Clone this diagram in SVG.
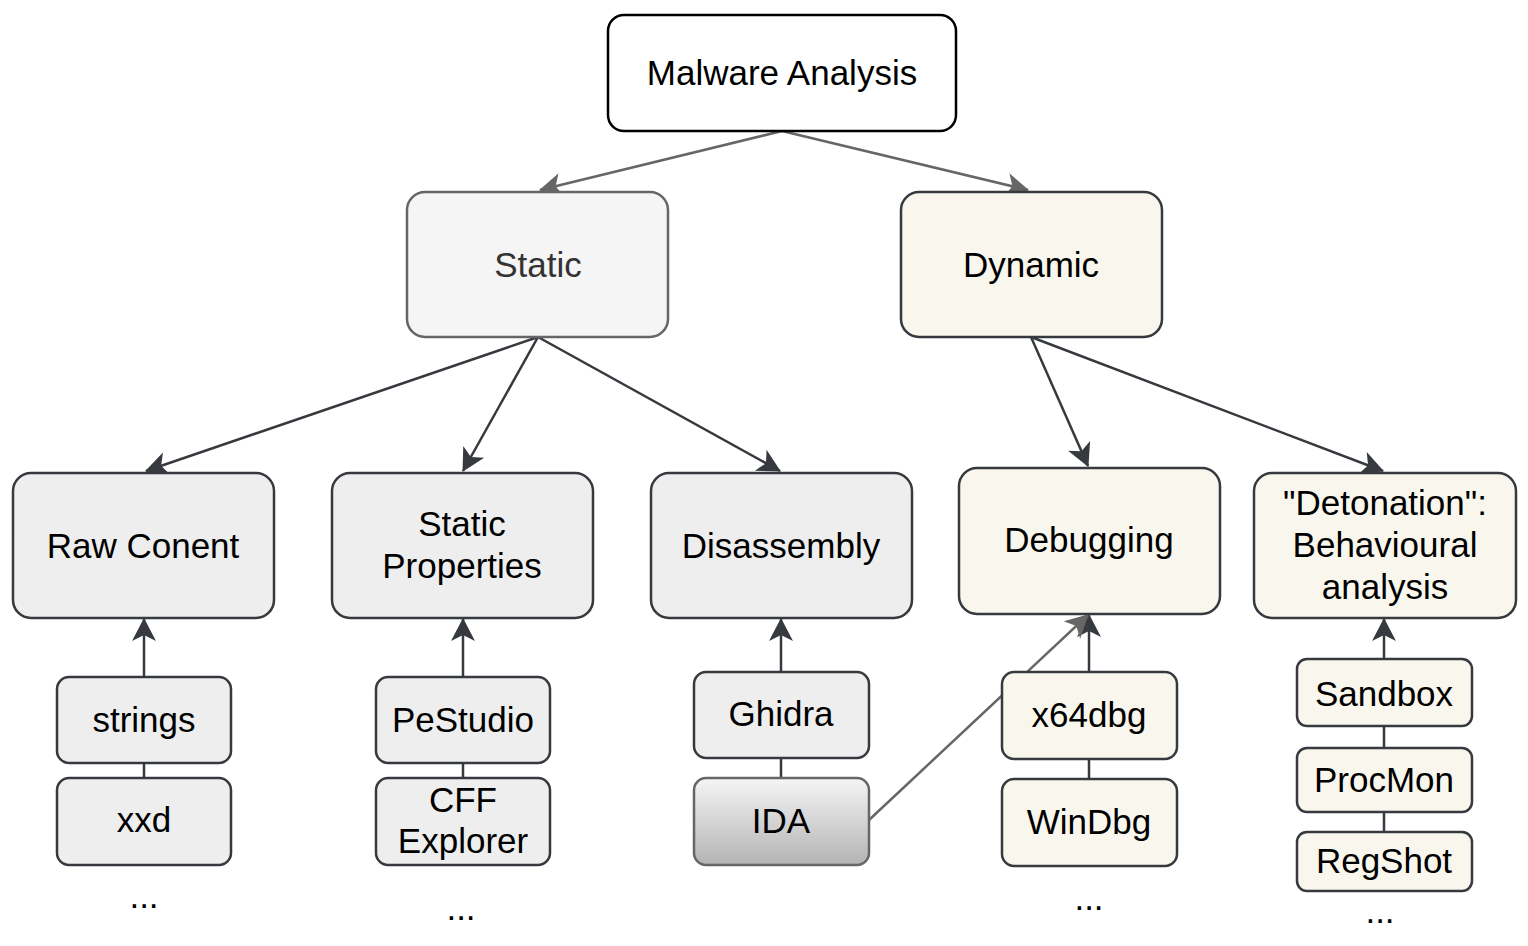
<svg xmlns="http://www.w3.org/2000/svg" width="1528" height="946" viewBox="0 0 1528 946">
<style>
text{font-family:"Liberation Sans",Arial,Helvetica,sans-serif;font-size:35px;fill:#000;text-anchor:middle}
.grey{fill:#eeeeee;stroke:#36393d;stroke-width:2.5}
.beige{fill:#f9f7ed;stroke:#36393d;stroke-width:2.5}
.e1{stroke:#666666;stroke-width:2.5;fill:none}
.e2{stroke:#36393d;stroke-width:2.5;fill:none}
marker{overflow:visible}
</style>
<defs>
<marker id="ag" markerUnits="userSpaceOnUse" refX="0" refY="0" markerWidth="26" markerHeight="26" orient="auto" style="overflow:visible">
<path d="M1,0 L-22,-12 L-16,0 L-22,12 Z" fill="#666666" stroke="none"/>
</marker>
<marker id="ad" markerUnits="userSpaceOnUse" refX="0" refY="0" markerWidth="26" markerHeight="26" orient="auto" style="overflow:visible">
<path d="M1,0 L-22,-12 L-16,0 L-22,12 Z" fill="#36393d" stroke="none"/>
</marker>
<linearGradient id="idaGrad" x1="0" y1="0" x2="0" y2="1">
<stop offset="0" stop-color="#f5f5f5"/>
<stop offset="1" stop-color="#b3b3b3"/>
</linearGradient>
</defs>
<g id="connectors">
<line class="e1" x1="782" y1="131" x2="540" y2="190" marker-end="url(#ag)"/>
<line class="e1" x1="782" y1="131" x2="1028" y2="190" marker-end="url(#ag)"/>
<line class="e2" x1="538" y1="337" x2="146" y2="471" marker-end="url(#ad)"/>
<line class="e2" x1="538" y1="337" x2="463" y2="471" marker-end="url(#ad)"/>
<line class="e2" x1="538" y1="337" x2="780" y2="471" marker-end="url(#ad)"/>
<line class="e2" x1="1031" y1="337" x2="1088" y2="466" marker-end="url(#ad)"/>
<line class="e2" x1="1031" y1="337" x2="1383" y2="471" marker-end="url(#ad)"/>
<line class="e2" x1="144" y1="677" x2="144" y2="619" marker-end="url(#ad)"/>
<line class="e2" x1="463" y1="676" x2="463" y2="619" marker-end="url(#ad)"/>
<line class="e2" x1="781" y1="671" x2="781" y2="619" marker-end="url(#ad)"/>
<line class="e2" x1="1089" y1="672" x2="1089" y2="615" marker-end="url(#ad)"/>
<line class="e2" x1="1384" y1="659" x2="1384" y2="619" marker-end="url(#ad)"/>
<line class="e1" x1="869" y1="820" x2="1088" y2="615" marker-end="url(#ag)"/>
<line class="e2" x1="144" y1="763" x2="144" y2="778"/>
<line class="e2" x1="463" y1="763" x2="463" y2="778"/>
<line class="e2" x1="781" y1="758" x2="781" y2="778"/>
<line class="e2" x1="1089" y1="759" x2="1089" y2="779"/>
<line class="e2" x1="1384" y1="726" x2="1384" y2="748"/>
<line class="e2" x1="1384" y1="812" x2="1384" y2="832"/>
</g>
<g id="malware">
<rect x="608" y="15" width="348" height="116" rx="16" fill="#ffffff" stroke="#000" stroke-width="2.5"/>
<text x="782" y="85">Malware Analysis</text>
</g>
<g id="static">
<rect x="407" y="192" width="261" height="145" rx="18" fill="#f5f5f5" stroke="#666666" stroke-width="2.5"/>
<text x="538" y="277" style="fill:#333333">Static</text>
</g>
<g id="dynamic">
<rect class="beige" x="901" y="192" width="261" height="145" rx="18"/>
<text x="1031" y="277">Dynamic</text>
</g>
<g id="raw">
<rect class="grey" x="13" y="473" width="261" height="145" rx="18"/>
<text x="143" y="558">Raw Conent</text>
</g>
<g id="staticprops">
<rect class="grey" x="332" y="473" width="261" height="145" rx="18"/>
<text x="462" y="536">Static</text>
<text x="462" y="578">Properties</text>
</g>
<g id="disassembly">
<rect class="grey" x="651" y="473" width="261" height="145" rx="18"/>
<text x="781" y="558">Disassembly</text>
</g>
<g id="debugging">
<rect class="beige" x="959" y="468" width="261" height="146" rx="18"/>
<text x="1089" y="552">Debugging</text>
</g>
<g id="detonation">
<rect class="beige" x="1254" y="473" width="262" height="145" rx="18"/>
<text x="1385" y="515">"Detonation":</text>
<text x="1385" y="557">Behavioural</text>
<text x="1385" y="599">analysis</text>
</g>
<g id="strings">
<rect class="grey" x="57" y="677" width="174" height="86" rx="12"/>
<text x="144" y="732">strings</text>
</g>
<g id="xxd">
<rect class="grey" x="57" y="778" width="174" height="87" rx="12"/>
<text x="144" y="832">xxd</text>
</g>
<g id="dots1"><text x="144" y="908">...</text></g>
<g id="pestudio">
<rect class="grey" x="376" y="677" width="174" height="86" rx="12"/>
<text x="463" y="732">PeStudio</text>
</g>
<g id="cff">
<rect class="grey" x="376" y="778" width="174" height="87" rx="12"/>
<text x="463" y="812">CFF</text>
<text x="463" y="853">Explorer</text>
</g>
<g id="dots2"><text x="461" y="920">...</text></g>
<g id="ghidra">
<rect class="grey" x="694" y="672" width="175" height="86" rx="12"/>
<text x="781" y="726">Ghidra</text>
</g>
<g id="ida">
<rect x="694" y="778" width="175" height="87" rx="12" fill="url(#idaGrad)" stroke="#666666" stroke-width="2.5"/>
<text x="781" y="833">IDA</text>
</g>
<g id="x64dbg">
<rect class="beige" x="1002" y="672" width="175" height="87" rx="12"/>
<text x="1089" y="727">x64dbg</text>
</g>
<g id="windbg">
<rect class="beige" x="1002" y="779" width="175" height="87" rx="12"/>
<text x="1089" y="834">WinDbg</text>
</g>
<g id="dots3"><text x="1089" y="910">...</text></g>
<g id="sandbox">
<rect class="beige" x="1297" y="659" width="175" height="67" rx="10"/>
<text x="1384" y="706">Sandbox</text>
</g>
<g id="procmon">
<rect class="beige" x="1297" y="748" width="175" height="64" rx="10"/>
<text x="1384" y="792">ProcMon</text>
</g>
<g id="regshot">
<rect class="beige" x="1297" y="832" width="175" height="59" rx="10"/>
<text x="1384" y="873">RegShot</text>
</g>
<g id="dots4"><text x="1380" y="923">...</text></g>
</svg>
